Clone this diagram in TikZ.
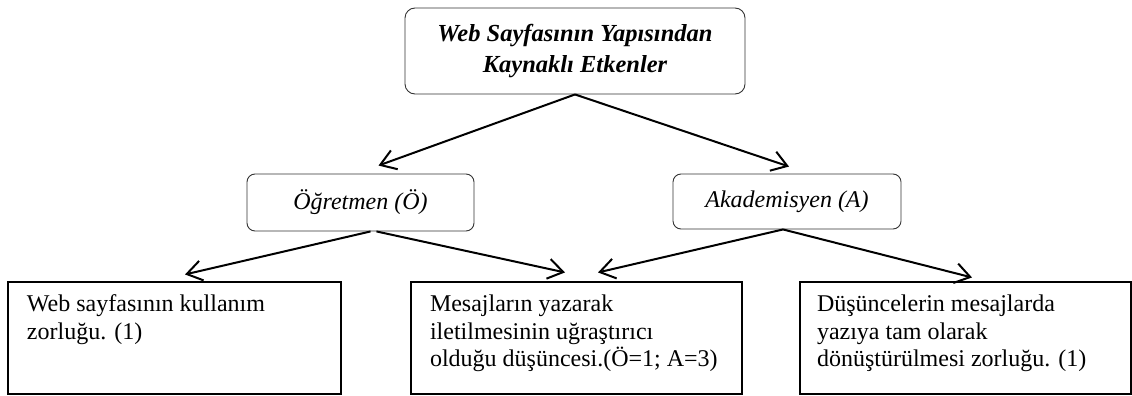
\documentclass[tikz,border=0pt]{standalone}
\usepackage{fontspec}
\setmainfont{Liberation Serif}
\usetikzlibrary{arrows.meta}

\tikzset{
  headbox/.style={draw=black!80, line width=0.9pt, rounded corners=10pt,
    inner sep=0pt, align=center,
    font=\fontsize{24.5}{31}\selectfont\bfseries\itshape},
  groupbox/.style={draw=black!80, line width=0.9pt, rounded corners=8pt,
    inner sep=0pt, font=\fontsize{24}{27.5}\selectfont\itshape},
  itembox/.style={draw=black, line width=1.1pt, inner xsep=19pt,
    inner ysep=13pt, font=\fontsize{24}{27.5}\selectfont},
  arr/.style={line width=2pt,
    -{Straight Barb[length=15pt,width=20pt,line width=2pt]}}
}
\newcommand{\itemtext}[2]{\parbox[c][86pt][t]{#1}{\raggedright #2}}

\begin{document}
\begin{tikzpicture}[x=1pt,y=-1pt]
  \useasboundingbox (0,0) rectangle (1132,396);

  % heading
  \node[headbox, minimum width=340pt, minimum height=86pt] (top) at (575,51)
    {Web Sayfasının Yapısından\\Kaynaklı Etkenler};

  % participant groups
  \node[groupbox, minimum width=227pt, minimum height=57pt] (ogr) at (360.5,202.5)
    {Öğretmen (Ö)};
  \node[groupbox, minimum width=228pt, minimum height=55pt] (aka) at (787,201.5)
    {Akademisyen (A)};

  % factors
  \node[itembox] (b1) at (174.5,338)
    {\itemtext{295pt}{Web sayfasının kullanım\\zorluğu. (1)}};
  \node[itembox] (b2) at (576.5,338)
    {\itemtext{293pt}{Mesajların yazarak\\iletilmesinin uğraştırıcı\\olduğu düşüncesi.(Ö=1; A=3)}};
  \node[itembox, inner xsep=17pt] (b3) at (965.5,338)
    {\itemtext{297pt}{Düşüncelerin mesajlarda\\yazıya tam olarak\\dönüştürülmesi zorluğu. (1)}};

  % connectors
  \draw[arr] (top.south) -- ([xshift=18pt,yshift=8pt]ogr.north);
  \draw[arr] (top.south) -- ([xshift=2pt,yshift=7pt]aka.north);
  \draw[arr] ([xshift=10pt]ogr.south) -- ([xshift=10.5pt,yshift=7pt]b1.north);
  \draw[arr] ([xshift=16pt]ogr.south) -- ([xshift=-11.5pt,yshift=9pt]b2.north);
  \draw[arr] ([xshift=-4pt]aka.south) -- ([xshift=21.5pt,yshift=9pt]b2.north);
  \draw[arr] ([xshift=-4pt]aka.south) -- ([xshift=6.5pt,yshift=4pt]b3.north);
\end{tikzpicture}
\end{document}
